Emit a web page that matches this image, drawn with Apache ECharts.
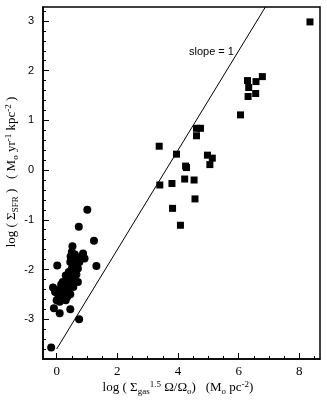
<!DOCTYPE html>
<html>
<head>
<meta charset="utf-8">
<script src="https://cdn.jsdelivr.net/npm/echarts@6/dist/echarts.min.js"></script>
<style>
  html, body { margin: 0; padding: 0; background: #fff; }
  #chart { width: 327px; height: 404px; }
</style>
</head>
<body>
<div id="chart"></div>
<script>
// circles (low surface density disks)
const circleX = [1.01, 0.73, 1.23, 0.52, 0.46, 0.87, 0.92, 0.02, 1.31, -0.12, -0.09, 0.10, 0.45, 0.74, -0.18,
  0.50, 0.60, 0.55, 0.65, 0.75, 0.45, 0.60, 0.50, 0.70, 0.40, 0.55, 0.65, 0.30, 0.45, 0.35, 0.55, 0.20, 0.45,
  0.25, 0.40, 0.10, 0.55, 0.30, 0.15, 0.45, 0.05, 0.20, 0.35, 0.00, 0.10, 0.30, -0.05, 0.80, 0.70, 0.15]
const circleY = [-0.80, -1.14, -1.42, -1.53, -1.74, -1.68, -1.78, -1.92, -1.93, -2.36, -2.78, -2.88, -2.80, -3.00, -3.57,
  -1.65, -1.70, -1.80, -1.78, -1.85, -1.85, -1.92, -1.98, -1.98, -2.05, -2.06, -2.10, -2.12, -2.15, -2.22, -2.20, -2.25, -2.28,
  -2.35, -2.38, -2.40, -2.35, -2.45, -2.48, -2.50, -2.50, -2.58, -2.55, -2.62, -2.65, -2.62, -2.45, -1.75, -2.25, -2.30]

// squares (starbursts)
const squareX = [8.35, 6.78, 6.57, 6.29, 6.33, 6.56, 6.31, 6.06, 4.61, 4.74, 4.61, 3.38, 3.95, 4.97, 5.13, 5.05,
  4.25, 4.28, 4.22, 4.53, 3.40, 3.80, 4.56, 3.82, 4.08]
const squareY = [2.98, 1.88, 1.78, 1.80, 1.66, 1.54, 1.48, 1.11, 0.84, 0.84, 0.69, 0.48, 0.32, 0.30, 0.24, 0.11,
  0.08, 0.05, -0.18, -0.20, -0.30, -0.27, -0.58, -0.77, -1.11]

// slope = 1 reference line
const lineX = [0, 6.88]
const lineY = [-3.6, 3.28]

const xTicks = [0, 2, 4, 6, 8]
const yTicks = [-3, -2, -1, 0, 1, 2, 3]

const xMin = -0.45, xMax = 8.68
const yMin = -3.8, yMax = 3.28

let xMinor = []
for (let v = -0.5; v <= 8.5; v += 0.5) {
  if (v > xMin && v % 2 !== 0) xMinor.push(+v.toFixed(2))
}
let yMinor = []
for (let i = -19; i <= 16; i++) {
  let v = +(i * 0.2).toFixed(2)
  if (v > yMin && v < yMax && !Number.isInteger(v)) yMinor.push(v)
}

const zip = (a, b) => a.map((v, i) => [v, b[i]])

const serif = 'Liberation Serif'
const sans = 'Liberation Sans'
// sub/superscripts: small boxes pinned to bottom/top of the 16px line
const sub = { fontFamily: serif, fontSize: 9, verticalAlign: 'bottom', lineHeight: 10 }
const sup = { fontFamily: serif, fontSize: 9, verticalAlign: 'top', lineHeight: 10 }
const txt = { fontFamily: serif, fontSize: 13, lineHeight: 16 }

let chart = echarts.init(document.getElementById('chart'), null, { renderer: 'canvas' })

let option = {
  animation: false,
  backgroundColor: '#fff',
  grid: {
    left: 43, top: 7, right: 7, bottom: 45,
    show: true, borderColor: '#000', borderWidth: 1.5, backgroundColor: 'transparent'
  },
  xAxis: [
    {
      type: 'value', min: xMin, max: xMax,
      axisLine: { show: true, onZero: false, lineStyle: { color: '#000', width: 1.5 } },
      axisTick: { show: true, inside: true, length: 6, customValues: xTicks, lineStyle: { color: '#000' } },
      axisLabel: { customValues: xTicks, color: '#000', fontFamily: serif, fontSize: 13, margin: 6 },
      splitLine: { show: false }
    },
    {
      type: 'value', min: xMin, max: xMax, position: 'bottom',
      axisLine: { show: false, onZero: false },
      axisTick: { show: true, inside: true, length: 3, customValues: xMinor, lineStyle: { color: '#000' } },
      axisLabel: { show: false },
      splitLine: { show: false }
    }
  ],
  yAxis: [
    {
      type: 'value', min: yMin, max: yMax,
      axisLine: { show: true, onZero: false, lineStyle: { color: '#000', width: 1.5 } },
      axisTick: { show: true, inside: true, length: 6, customValues: yTicks, lineStyle: { color: '#000' } },
      axisLabel: { customValues: yTicks, color: '#000', fontFamily: sans, fontSize: 11, margin: 9 },
      splitLine: { show: false }
    },
    {
      type: 'value', min: yMin, max: yMax, position: 'left',
      axisLine: { show: false, onZero: false },
      axisTick: { show: true, inside: true, length: 3, customValues: yMinor, lineStyle: { color: '#000' } },
      axisLabel: { show: false },
      splitLine: { show: false }
    }
  ],
  series: [
    {
      type: 'line', data: zip(lineX, lineY), symbol: 'none',
      lineStyle: { color: '#000', width: 1 }, silent: true, z: 1
    },
    {
      type: 'scatter', data: zip(circleX, circleY), symbol: 'circle', symbolSize: 8,
      itemStyle: { color: '#000', opacity: 1 }, z: 3
    },
    {
      type: 'scatter', data: zip(squareX, squareY), symbol: 'rect', symbolSize: 7,
      itemStyle: { color: '#000', opacity: 1 }, z: 3
    }
  ],
  graphic: [
    {
      type: 'text', left: 189, top: 46,
      style: { text: 'slope = 1', fontFamily: sans, fontSize: 11, fill: '#000' }
    },
    {
      type: 'text', x: 178, y: 388,
      style: {
        text: '{t|log ( Σ}{sub|gas}{sup|1.5}{t| Ω/Ω}{sub|o}{t|)   (M}{sub|o}{t| pc}{sup|-2}{t|)}',
        rich: { t: txt, sub: sub, sup: sup },
        align: 'center', verticalAlign: 'middle', fill: '#000'
      }
    },
    {
      type: 'text', x: 12, y: 172, rotation: Math.PI / 2,
      style: {
        text: '{t|log ( Σ}{sub|SFR}{t| )   ( M}{sub|o}{t| yr}{sup|-1}{t| kpc}{sup|-2}{t| )}',
        rich: { t: txt, sub: sub, sup: sup },
        align: 'center', verticalAlign: 'middle', fill: '#000'
      }
    }
  ]
}

chart.setOption(option)
window.onresize = function () {
  chart.resize()
}
</script>
</body>
</html>
